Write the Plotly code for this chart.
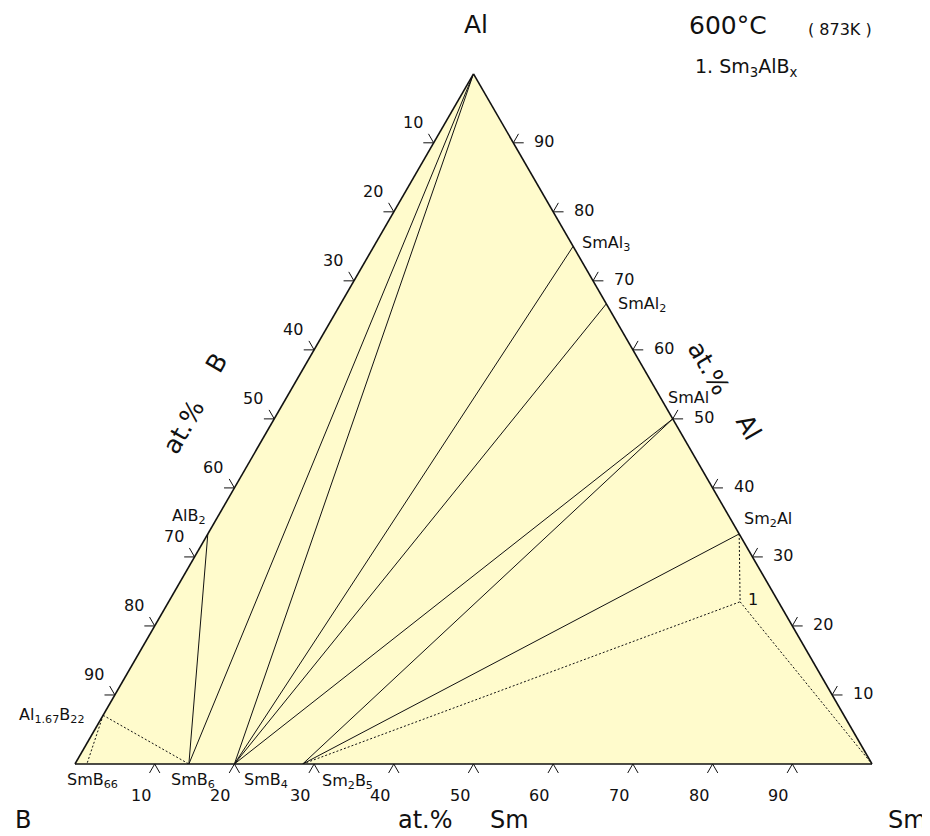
import plotly.graph_objects as go

# ---------------- data ----------------
phase_names = ["Al", "B", "Sm", "AlB2", "Al1.67B22", "SmB66", "SmB6", "SmB4",
               "Sm2B5", "SmAl3", "SmAl2", "SmAl", "Sm2Al", "1"]
phase_al = [100, 0, 0, 33.33, 7.06, 0, 0, 0, 0, 75, 66.67, 50, 33.33, 23.5]
phase_b = [0, 100, 0, 66.67, 92.94, 98.51, 85.71, 80, 71.43, 0, 0, 0, 0, 4.8]
phase_sm = [0, 0, 100, 0, 0, 1.49, 14.29, 20, 28.57, 25, 33.33, 50, 66.67, 71.7]

phase_label_text = {
    "AlB2": "AlB<sub>2</sub>",
    "Al1.67B22": "Al<sub>1.67</sub>B<sub>22</sub>",
    "SmB66": "SmB<sub>66</sub>",
    "SmB6": "SmB<sub>6</sub>",
    "SmB4": "SmB<sub>4</sub>",
    "Sm2B5": "Sm<sub>2</sub>B<sub>5</sub>",
    "SmAl3": "SmAl<sub>3</sub>",
    "SmAl2": "SmAl<sub>2</sub>",
    "SmAl": "SmAl",
    "Sm2Al": "Sm<sub>2</sub>Al",
    "1": "1",
}

solid_ties = [("Al", "SmB6"), ("Al", "SmB4"), ("AlB2", "SmB6"),
              ("SmAl3", "SmB4"), ("SmAl2", "SmB4"), ("SmAl", "SmB4"),
              ("SmAl", "Sm2B5"), ("Sm2Al", "Sm2B5")]
dashed_ties = [("Al1.67B22", "SmB66"), ("Al1.67B22", "SmB6"),
               ("Sm2Al", "1"), ("Sm2B5", "1"), ("1", "Sm")]

tick_values = [10, 20, 30, 40, 50, 60, 70, 80, 90]
tick_labels = ["10", "20", "30", "40", "50", "60", "70", "80", "90"]

# ---------------- geometry / style ----------------
OFF = 8                        # page body margin of the html page
W, H = 930 - OFF, 836 - OFF
X0, Y0 = 75.0, 764.0           # B corner in window px
L = 797.0                      # side length px
HT = L * 3 ** 0.5 / 2          # triangle height px
PE = L / 100.0                 # px per % along edge
PH = HT / 100.0                # px per % in height
FONT = "DejaVu Sans"
INK = "#111111"

comp = {n: (a, b, c) for n, a, b, c in zip(phase_names, phase_al, phase_b, phase_sm)}


def px_to_paper(px, py):
    return (px - OFF) / W, 1 - (py - OFF) / H


def to_px(a, b, c):
    return X0 + (c + a / 2.0) * PE, Y0 - a * PH


def to_paper(a, b, c):
    return px_to_paper(*to_px(a, b, c))


def ann(text, a, b, c, dx, dy, size, angle=0):
    x, y = to_paper(a, b, c)
    return dict(x=x, y=y, xref="paper", yref="paper", text=text, showarrow=False,
                xshift=dx, yshift=-dy, xanchor="center", yanchor="middle",
                textangle=angle, font=dict(family=FONT, size=size, color=INK))


def pann(text, px, py, size, angle=0):
    x, y = px_to_paper(px, py)
    return dict(x=x, y=y, xref="paper", yref="paper", text=text,
                showarrow=False, xanchor="center", yanchor="middle", textangle=angle,
                font=dict(family=FONT, size=size, color=INK))


def tie_arrays(pairs):
    A, B_, C = [], [], []
    for p, q in pairs:
        for n in (p, q):
            a, b, c = comp[n]
            A.append(a); B_.append(b); C.append(c)
        A.append(None); B_.append(None); C.append(None)
    return A, B_, C


fig = go.Figure()

sa, sb, sc = tie_arrays(solid_ties)
fig.add_trace(go.Scatterternary(a=sa, b=sb, c=sc, mode="lines",
                                line=dict(color=INK, width=1), hoverinfo="skip"))
da, db, dc = tie_arrays(dashed_ties)
fig.add_trace(go.Scatterternary(a=da, b=db, c=dc, mode="lines",
                                line=dict(color=INK, width=1, dash="2px,2px"),
                                hoverinfo="skip"))

# chevron ticks: short extensions of the two grid lines through each tick, outside the edge
d = 1.3
shapes = []


def chevron(p1, p0, p2):
    pts = [to_paper(*p) for p in (p1, p0, p2)]
    path = "M{:.5f},{:.5f} L{:.5f},{:.5f} L{:.5f},{:.5f}".format(
        pts[0][0], pts[0][1], pts[1][0], pts[1][1], pts[2][0], pts[2][1])
    return dict(type="path", xref="paper", yref="paper", path=path,
                line=dict(color=INK, width=1))


for v in tick_values:
    # bottom edge: Sm = v
    shapes.append(chevron((-d, 100 - v + d, v), (0, 100 - v, v), (-d, 100 - v, v + d)))
    # left edge: B = v
    shapes.append(chevron((100 - v, v + d, -d), (100 - v, v, 0), (100 - v + d, v, -d)))
    # right edge: Al = v
    shapes.append(chevron((v, -d, 100 - v + d), (v, 0, 100 - v), (v + d, -d, 100 - v)))

annotations = []
for v, t in zip(tick_values, tick_labels):
    annotations.append(ann(t, 0, 100 - v, v, -14, 31, 16))        # Sm axis (bottom)
    annotations.append(ann(t, 100 - v, v, 0, -21, -20, 16))       # B axis (left)
    annotations.append(ann(t, v, 0, 100 - v, 31, -1, 16))         # Al axis (right)

label_shift = {
    "AlB2": (-19, -17), "Al1.67B22": (-51, 0), "SmB66": (6, 16), "SmB6": (4, 16),
    "SmB4": (32, 16), "Sm2B5": (45, 17), "SmAl3": (33, -3), "SmAl2": (36, 1),
    "SmAl": (16, -21), "Sm2Al": (29, -14), "1": (13, -2),
}
for n, t in phase_label_text.items():
    a, b, c = comp[n]
    dx, dy = label_shift[n]
    annotations.append(ann(t, a, b, c, dx, dy, 16))

annotations += [
    pann("Al", 476, 25, 25),
    pann("B", 23, 820, 24),
    pann("Sm", 907, 820, 24),
    pann("at.%", 425, 820, 24),
    pann("Sm", 509, 820, 24),
    pann("at.%", 183, 427, 25, -60),
    pann("B", 216, 363, 25, -60),
    pann("at.%", 708, 368, 25, 60),
    pann("Al", 749, 427, 25, 60),
    pann("600°C", 728, 26, 25),
    pann("( 873K )", 840, 29, 16),
    pann("1. Sm<sub>3</sub>AlB<sub>x</sub>", 746, 68, 19),
]

axis_style = dict(showticklabels=False, ticks="", showgrid=False, showline=True,
                  linecolor=INK, linewidth=1.6, title=dict(text=""))

dx0, dy0 = px_to_paper(X0, Y0)
dx1, dy1 = px_to_paper(X0 + L, Y0 - HT)

fig.update_layout(
    width=W, height=H,
    margin=dict(l=0, r=0, t=0, b=0),
    paper_bgcolor="white",
    showlegend=False,
    ternary=dict(
        sum=100,
        domain=dict(x=[dx0, dx1], y=[dy0, dy1]),
        bgcolor="#FFFBCC",
        aaxis=axis_style, baxis=axis_style, caxis=axis_style,
    ),
    shapes=shapes,
    annotations=annotations,
)

fig.write_html("out.html", config={"displayModeBar": False})
